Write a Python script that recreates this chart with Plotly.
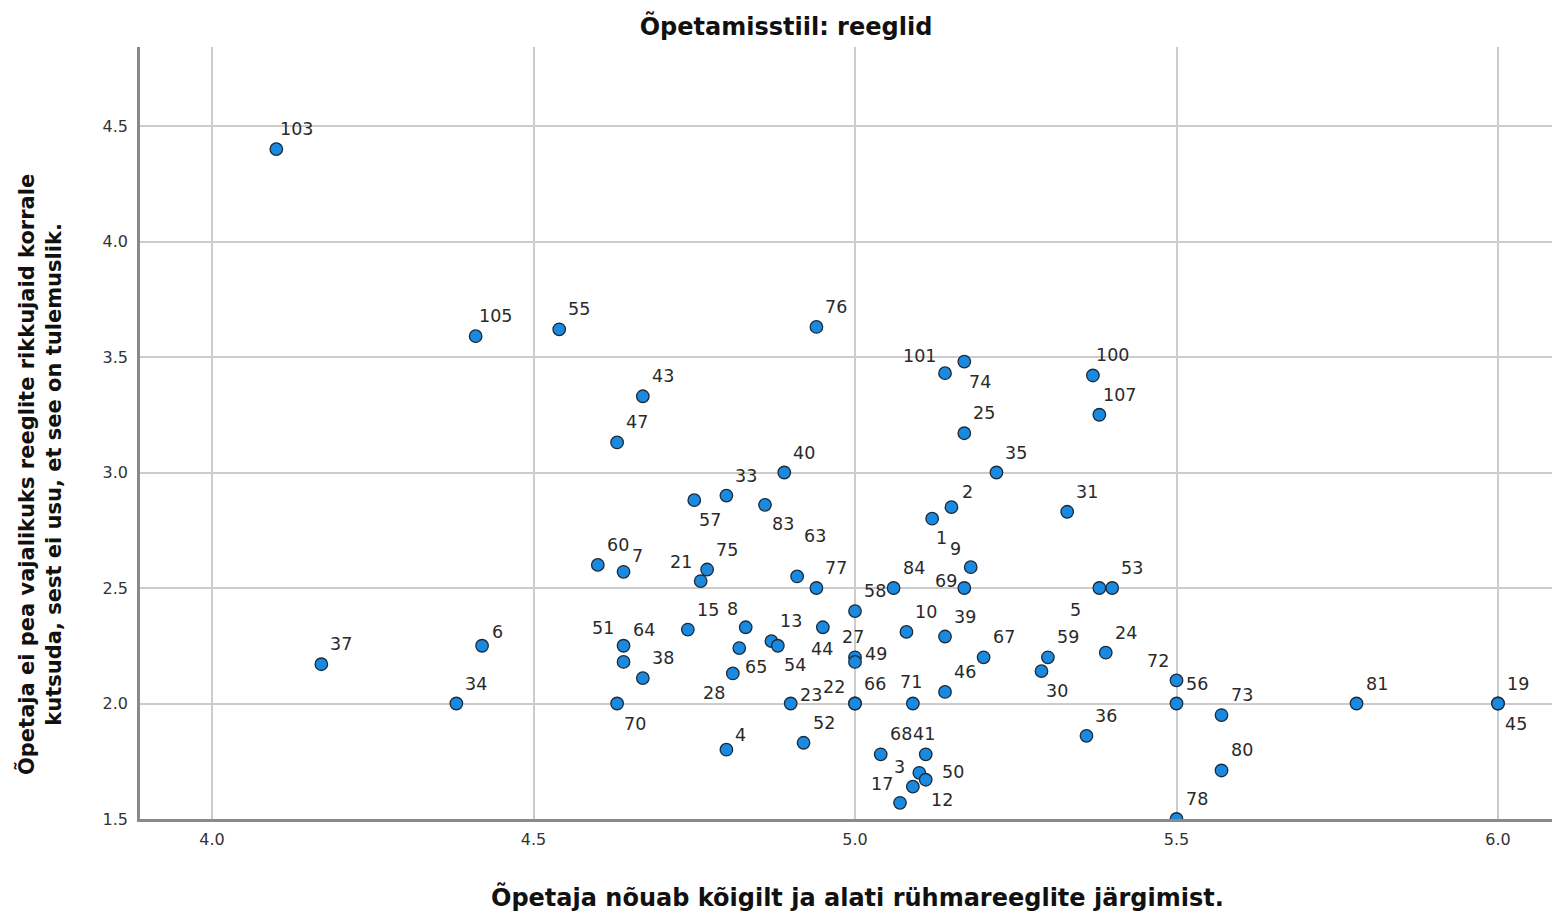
import plotly.graph_objects as go

# ---- data ----
ids = [103, 105, 55, 76, 101, 74, 100, 107, 43, 47, 25, 35, 40, 31, 33, 57, 83, 2, 1, 63,
       60, 7, 75, 21, 77, 84, 58, 9, 69, 5, 53, 15, 8, 13, 54, 44, 65, 28, 10, 39,
       51, 64, 38, 27, 49, 67, 59, 30, 24, 6, 37, 34, 72, 56, 73, 80, 81, 19, 45, 78,
       23, 22, 66, 71, 46, 70, 36, 4, 52, 68, 41, 3, 50, 17, 12]
x_vals = [4.10, 4.41, 4.54, 4.94, 5.14, 5.17, 5.37, 5.38, 4.67, 4.63, 5.17, 5.22, 4.89, 5.33, 4.80, 4.75, 4.86, 5.15, 5.12, 4.91,
          4.60, 4.64, 4.77, 4.76, 4.94, 5.06, 5.00, 5.18, 5.17, 5.38, 5.40, 4.74, 4.83, 4.87, 4.88, 4.95, 4.82, 4.81, 5.08, 5.14,
          4.64, 4.64, 4.67, 5.00, 5.00, 5.20, 5.30, 5.29, 5.39, 4.42, 4.17, 4.38, 5.50, 5.50, 5.57, 5.57, 5.78, 6.00, 6.00, 5.50,
          4.90, 5.00, 5.00, 5.09, 5.14, 4.63, 5.36, 4.80, 4.92, 5.04, 5.11, 5.10, 5.11, 5.07, 5.09]
y_vals = [4.40, 3.59, 3.62, 3.63, 3.43, 3.48, 3.42, 3.25, 3.33, 3.13, 3.17, 3.00, 3.00, 2.83, 2.90, 2.88, 2.86, 2.85, 2.80, 2.55,
          2.60, 2.57, 2.58, 2.53, 2.50, 2.50, 2.40, 2.59, 2.50, 2.50, 2.50, 2.32, 2.33, 2.27, 2.25, 2.33, 2.24, 2.13, 2.31, 2.29,
          2.25, 2.18, 2.11, 2.20, 2.18, 2.20, 2.20, 2.14, 2.22, 2.25, 2.17, 2.00, 2.10, 2.00, 1.95, 1.71, 2.00, 2.00, 2.00, 1.50,
          2.00, 2.00, 2.00, 2.00, 2.05, 2.00, 1.86, 1.80, 1.83, 1.78, 1.78, 1.70, 1.67, 1.57, 1.64]

x_ticks = [4.0, 4.5, 5.0, 5.5, 6.0]
y_ticks = [1.5, 2.0, 2.5, 3.0, 3.5, 4.0, 4.5]

title_text = "Õpetamisstiil: reeglid"
x_title = "Õpetaja nõuab kõigilt ja alati rühmareeglite järgimist."
y_title = "Õpetaja ei pea vajalikuks reeglite rikkujaid korrale<br>kutsuda, sest ei usu, et see on tulemuslik."

# ---- label placement (pixel offsets of point labels, style only) ----
default_off = (20, -20)
label_off = {
    74: (16, 20), 101: (-26, -17), 57: (16, 20), 83: (18, 19), 2: (16, -15), 1: (9, 19),
    63: (18, -40), 7: (14, -16), 21: (-20, -19), 9: (-15, -18), 69: (-18, -7), 5: (-24, 22),
    8: (-13, -18), 54: (17, 19), 44: (-1, 22), 65: (17, 19), 28: (-19, 20), 51: (-21, -18),
    64: (20, -32), 27: (-2, -20), 49: (21, -8), 30: (16, 20), 6: (15, -14), 72: (-19, -19),
    45: (18, 20), 23: (20, -9), 22: (-21, -17), 71: (-2, -22), 70: (18, 20), 4: (14, -15),
    41: (-2, -20), 3: (-20, -6), 50: (27, -8), 17: (-18, -19), 12: (29, 13),
}

FONT = "DejaVu Sans, Liberation Sans, Arial"
W, H = 1552, 915

fig = go.Figure()
fig.add_trace(go.Scatter(
    x=x_vals, y=y_vals, mode="markers",
    marker=dict(size=12.5, color="#1a8ae0", line=dict(color="#1c2a3a", width=1.3)),
    hoverinfo="text", text=[str(i) for i in ids], showlegend=False,
))

annotations = []
for i, xv, yv in zip(ids, x_vals, y_vals):
    dx, dy = label_off.get(i, default_off)
    annotations.append(dict(
        x=xv, y=yv, xref="x", yref="y", text=str(i), showarrow=False,
        xshift=dx, yshift=-dy, font=dict(family=FONT, size=17.5, color="#2a2a2a"),
    ))

# axis titles as annotations (positions as in the SPSS output)
annotations.append(dict(
    x=-0.0708, y=0.4456, xref="paper", yref="paper", xanchor="center", yanchor="middle",
    text="<b>" + y_title + "</b>", textangle=-90, showarrow=False,
    font=dict(family=FONT, size=21, color="#111"),
))
annotations.append(dict(
    x=0.5078, y=-0.101, xref="paper", yref="paper", xanchor="center", yanchor="middle",
    text="<b>" + x_title + "</b>", showarrow=False,
    font=dict(family=FONT, size=24, color="#111"),
))

fig.update_layout(
    width=W, height=H,
    margin=dict(l=140, r=0, t=47, b=96),
    paper_bgcolor="white", plot_bgcolor="white",
    title=dict(text="<b>" + title_text + "</b>", x=786 / W, xanchor="center",
               y=1 - 27 / H, yanchor="middle",
               font=dict(family=FONT, size=24, color="#111")),
    annotations=annotations,
    font=dict(family=FONT, color="#333"),
)
fig.update_xaxes(
    range=[3.888, 6.084], tickvals=x_ticks, ticktext=[f"{v:.1f}" for v in x_ticks],
    showgrid=True, gridcolor="#cccccc", gridwidth=1.5, zeroline=False,
    showline=True, linecolor="#8a8a8a", linewidth=2.5, automargin=False,
    ticks="outside", ticklen=4, tickcolor="rgba(0,0,0,0)", tickfont=dict(family=FONT, size=16, color="#333"),
)
fig.update_yaxes(
    range=[1.5, 4.842], tickvals=y_ticks, ticktext=[f"{v:.1f}" for v in y_ticks],
    showgrid=True, gridcolor="#cccccc", gridwidth=1.5, zeroline=False,
    showline=True, linecolor="#8a8a8a", linewidth=2.5, automargin=False,
    ticks="outside", ticklen=6, tickcolor="rgba(0,0,0,0)", tickfont=dict(family=FONT, size=16, color="#333"),
)

fig.write_html("out.html", config={"displayModeBar": False},
               post_script="document.body.style.margin='0';document.body.style.overflow='hidden';")
